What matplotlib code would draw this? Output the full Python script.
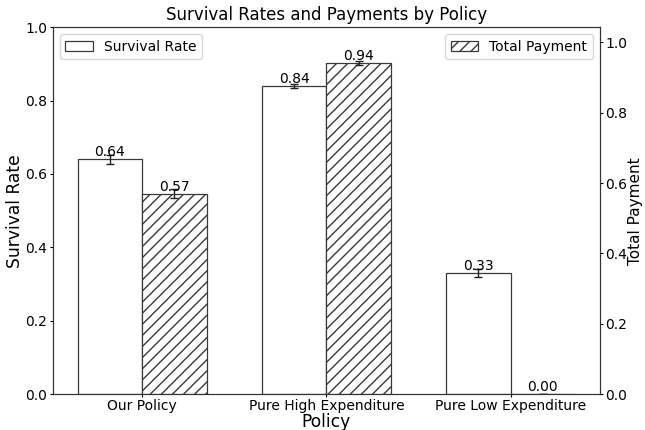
import matplotlib
matplotlib.use("Agg")
import matplotlib.pyplot as plt
import numpy as np

policies = ["Our Policy", "Pure High Expenditure", "Pure Low Expenditure"]
survival = [0.64, 0.84, 0.33]
survival_err = [0.013, 0.006, 0.011]
payment = [0.57, 0.94, 0.00]
payment_err = [0.012, 0.006, 0.0]

fig, ax1 = plt.subplots(figsize=(6.45, 4.3), dpi=100)
ax2 = ax1.twinx()
x = np.arange(len(policies))
w = 0.35
edge = "#3a3a3a"

b1 = ax1.bar(x - w / 2, survival, w, yerr=survival_err, capsize=3,
             color="white", edgecolor=edge, linewidth=0.9,
             error_kw=dict(elinewidth=1, ecolor="#222222"), label="Survival Rate")
b2 = ax2.bar(x + w / 2, payment, w, yerr=payment_err, capsize=3,
             color="white", edgecolor=edge, linewidth=0.9, hatch="///",
             error_kw=dict(elinewidth=1, ecolor="#222222"), label="Total Payment")

for rect, v in zip(b1, survival):
    ax1.text(rect.get_x() + rect.get_width() / 2, v, f"{v:.2f}",
             ha="center", va="bottom", fontsize=10)
for rect, v in zip(b2, payment):
    ax2.text(rect.get_x() + rect.get_width() / 2, v, f"{v:.2f}",
             ha="center", va="bottom", fontsize=10)

ax1.set_ylim(0, 1.0)
ax2.set_ylim(0, 1.043)
ax1.set_xticks(x)
ax1.set_xticklabels(policies, fontsize=10)
ax1.set_xlabel("Policy", fontsize=12.3, labelpad=0)
ax1.set_ylabel("Survival Rate", fontsize=12.3)
ax2.set_ylabel("Total Payment", fontsize=11)
ax1.yaxis.set_label_coords(-0.052, 0.5)
ax2.yaxis.set_label_coords(1.052, 0.5)
for ax in (ax1, ax2):
    ax.tick_params(length=2.2, pad=1.8, labelsize=10)
    for s in ax.spines.values():
        s.set_color("#333333")
ax1.tick_params(axis="x", pad=1.2)
ax1.set_title("Survival Rates and Payments by Policy", fontsize=12, pad=5)
ax1.legend(loc="upper left", fontsize=10)
ax2.legend(loc="upper right", fontsize=10)

fig.subplots_adjust(left=0.082, right=0.93, top=0.937, bottom=0.083)
fig.savefig("out.png", dpi=100)
